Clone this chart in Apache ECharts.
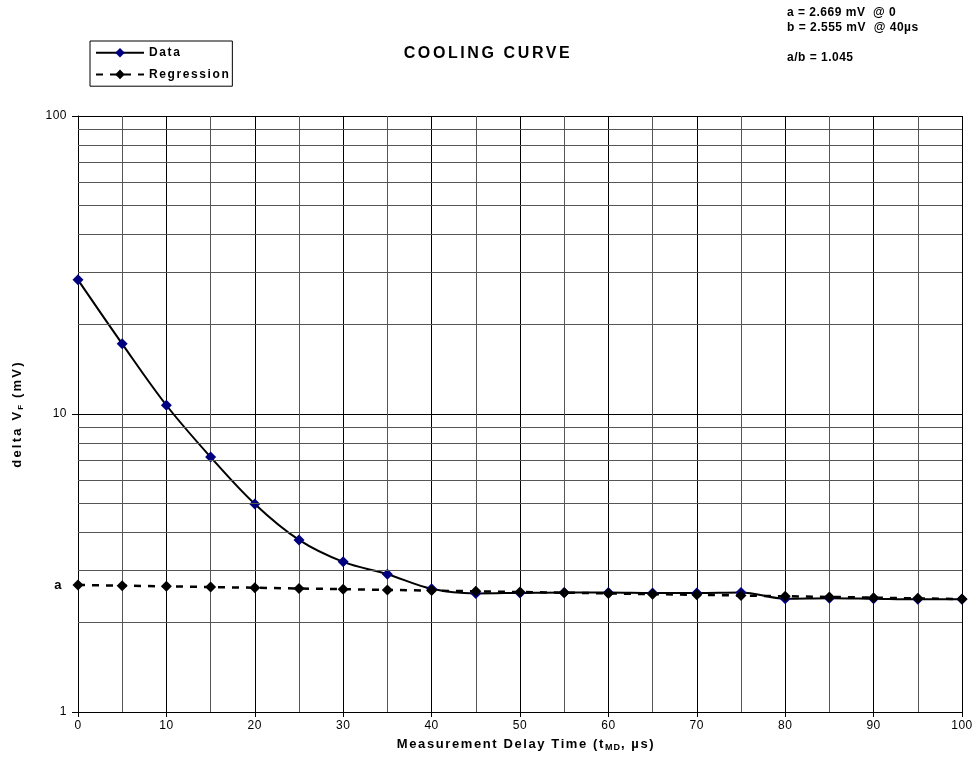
<!DOCTYPE html>
<html>
<head>
<meta charset="utf-8">
<script src="https://cdn.jsdelivr.net/npm/echarts@6/dist/echarts.min.js"></script>
<style>html,body{margin:0;padding:0;background:#fff;}#c{width:975px;height:770px;}</style>
</head>
<body>
<div id="c"></div>
<script>
const times = [0,5,10,15,20,25,30,35,40,45,50,55,60,65,70,75,80,85,90,95,100];
const dataValues = [28.2,17.2,10.7,7.17,4.99,3.78,3.19,2.90,2.59,2.50,2.51,2.52,2.52,2.51,2.51,2.52,2.40,2.41,2.40,2.39,2.39];
const regressionValues = [2.669,2.655,2.640,2.626,2.612,2.597,2.583,2.569,2.555,2.541,2.527,2.514,2.500,2.486,2.473,2.459,2.446,2.433,2.419,2.406,2.393];
const minorYLines = [2,3,4,5,6,7,8,9,20,30,40,50,60,70,80,90];
const annotations = ['a = 2.669 mV  @ 0','b = 2.555 mV  @ 40µs','','a/b = 1.045'];

// Bold chart texts in the reference are drawn with extra letter spacing.
// A marker family name "spNN" selects NN/10 px of letter spacing.
(function () {
  const P = CanvasRenderingContext2D.prototype;
  if (!('letterSpacing' in P)) return;
  ['fillText', 'strokeText', 'measureText'].forEach(function (name) {
    const orig = P[name];
    P[name] = function () {
      const m = /sp(\d+)/.exec(this.font || '');
      if (!m) return orig.apply(this, arguments);
      const prev = this.letterSpacing;
      this.letterSpacing = (parseInt(m[1], 10) / 10) + 'px';
      const r = orig.apply(this, arguments);
      this.letterSpacing = prev;
      return r;
    };
  });
})();

const base = '"Liberation Sans", Arial, sans-serif';
const fam = s => 'sp' + s + ', ' + base;

const chart = echarts.init(document.getElementById('c'));
chart.setOption({
  animation: false,
  backgroundColor: '#fff',
  title: {
    text: 'COOLING CURVE',
    left: 488, top: 44, textAlign: 'center', padding: 0,
    textStyle: {fontFamily: fam(26), fontSize: 16, fontWeight: 'bold', color: '#000'}
  },
  graphic: [{
    type: 'text', left: 787, top: 5,
    style: {text: annotations.join('\n'), fontFamily: fam(5), fontSize: 12, fontWeight: 'bold', fill: '#000', lineHeight: 15}
  }],
  legend: {
    orient: 'vertical', left: 90, top: 41,
    borderColor: '#000', borderWidth: 1, padding: [5, 2, 5, 5],
    itemGap: 8, itemWidth: 48, itemHeight: 12,
    textStyle: {fontFamily: fam(16), fontSize: 12, fontWeight: 'bold', color: '#000'},
    data: ['Data', 'Regression']
  },
  grid: {left: 78, right: 13, top: 116, bottom: 58},
  xAxis: {
    type: 'value', min: 0, max: 100, interval: 10,
    name: '{b|Measurement Delay Time (t}{s|MD}{b|, µs)}',
    nameLocation: 'middle', nameGap: 24,
    nameTextStyle: {padding: [0, 0, 0, 12], rich: {
      b: {fontFamily: fam(16), fontSize: 13, fontWeight: 'bold', color: '#000'},
      s: {fontFamily: fam(10), fontSize: 9, fontWeight: 'bold', color: '#000', padding: [6,0,0,0]}
    }},
    axisLine: {lineStyle: {color: '#000', width: 1}},
    axisTick: {show: true, length: 5, lineStyle: {color: '#000'}},
    axisLabel: {fontFamily: base, fontSize: 12, color: '#000', margin: 8},
    splitLine: {show: true, lineStyle: {color: '#000', width: 1}},
    minorTick: {show: false, splitNumber: 2},
    minorSplitLine: {show: true, lineStyle: {color: '#555', width: 1}}
  },
  yAxis: {
    type: 'log', logBase: 10, min: 1, max: 100,
    name: '{b|delta V}{s|F}{b| (mV)}',
    nameLocation: 'middle', nameGap: 53,
    nameTextStyle: {rich: {
      b: {fontFamily: fam(22), fontSize: 13, fontWeight: 'bold', color: '#000'},
      s: {fontFamily: fam(10), fontSize: 8, fontWeight: 'bold', color: '#000', padding: [6,0,0,0]}
    }},
    axisLine: {show: true, lineStyle: {color: '#000', width: 1}},
    axisTick: {show: true, length: 6, lineStyle: {color: '#000'}},
    axisLabel: {fontFamily: base, fontSize: 12, color: '#000', margin: 11},
    splitLine: {show: true, lineStyle: {color: '#000', width: 1}}
  },
  series: [
    {
      name: 'Data', type: 'line', smooth: 0.35,
      data: times.map((t, i) => [t, dataValues[i]]),
      symbol: 'diamond', symbolSize: 11,
      itemStyle: {color: '#000080'},
      lineStyle: {color: '#000', width: 2},
      z: 3,
      markLine: {
        silent: true, symbol: 'none', animation: false,
        label: {show: false},
        lineStyle: {color: '#555', width: 1, type: 'solid'},
        data: minorYLines.map(v => ({yAxis: v}))
      }
    },
    {
      name: 'Regression', type: 'line',
      data: times.map((t, i) => [t, regressionValues[i]]),
      symbol: 'diamond', symbolSize: 11,
      itemStyle: {color: '#000'},
      lineStyle: {color: '#000', width: 2.5, type: [7, 7]},
      z: 4,
      markPoint: {
        symbol: 'circle', symbolSize: 0, silent: true,
        label: {show: true, formatter: 'a', position: 'left', distance: 16,
          fontFamily: base, fontSize: 13, fontWeight: 'bold', color: '#000'},
        data: [{coord: [times[0], regressionValues[0]]}]
      }
    }
  ]
});
</script>
</body>
</html>
